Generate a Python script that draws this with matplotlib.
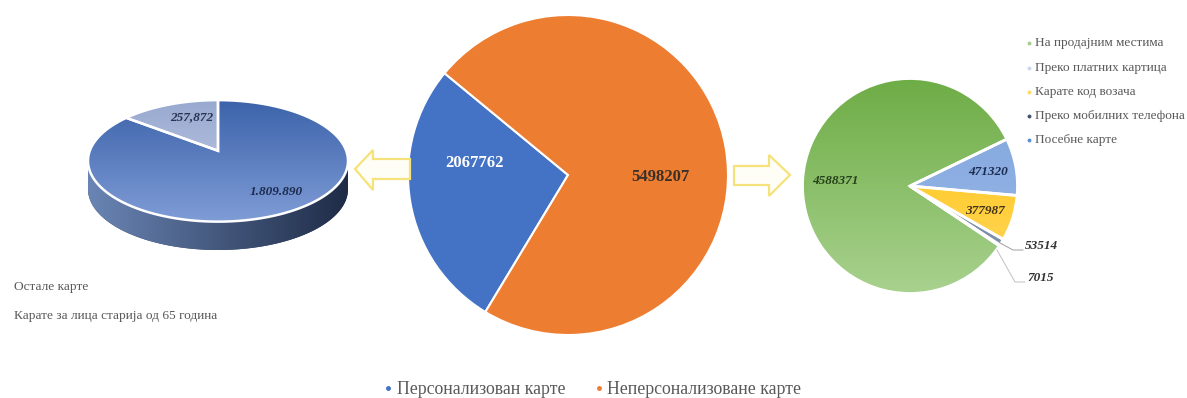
import numpy as np
import matplotlib
matplotlib.use('Agg')
import matplotlib.pyplot as plt
from matplotlib.colors import LinearSegmentedColormap
from matplotlib.patches import Polygon

W, H = 1187, 398

main_labels = ['Персонализован карте', 'Неперсонализоване карте']
main_values = [2067762, 5498207]
main_colors = ['#4472c4', '#ed7d31']

right_labels = ['На продајним местима', 'Преко платних картица', 'Карате код возача',
                'Преко мобилних телефона', 'Посебне карте']
right_values = [4588371, 7015, 53514, 377987, 471320]
right_dots = ['#a5d08a', '#c9d8ee', '#ffd966', '#44546a', '#5b8fd6']

left_labels = ['Остале карте', 'Карате за лица старија од 65 година']
left_values = [257872, 1809890]

plt.rcParams['font.family'] = ['Liberation Serif', 'DejaVu Serif']

fig = plt.figure(figsize=(W / 100, H / 100), dpi=100)


def px_axes(x0, y0, x1, y1):
    # axes box given in pixels, y measured from the top
    return fig.add_axes([x0 / W, 1 - y1 / H, (x1 - x0) / W, (y1 - y0) / H])


def fill_gradient(ax, patch, c1, c2, horizontal=False, z=3):
    cmap = LinearSegmentedColormap.from_list('g', [c1, c2])
    g = np.linspace(0, 1, 128)
    g = g.reshape(1, -1) if horizontal else g.reshape(-1, 1)
    xl, yl = ax.get_xlim(), ax.get_ylim()
    im = ax.imshow(g, cmap=cmap, extent=(xl[0], xl[1], yl[0], yl[1]), origin='upper',
                   aspect='auto', zorder=z)
    im.set_clip_path(patch)
    ax.set_xlim(xl)
    ax.set_ylim(yl)


# middle pie
R = 1.03
cx, cy, r = 568, 175, 160
ax_m = px_axes(cx - r * R, cy - r * R, cx + r * R, cy + r * R)
ax_m.pie(main_values, colors=main_colors, startangle=140.5, radius=1,
         wedgeprops={'edgecolor': 'white', 'linewidth': 1.5})
ax_m.set_xlim(-R, R)
ax_m.set_ylim(-R, R)

# right pie, gradient fills on top of the wedges
cx, cy, r = 910, 186, 107.5
ax_r = px_axes(cx - r * R, cy - r * R, cx + r * R, cy + r * R)
wedges, _ = ax_r.pie(right_values, startangle=25.8, radius=1,
                     colors=['#8cbf6a', '#d0d0d0', '#8090a8', '#ffc933', '#8aaee0'])
ax_r.set_xlim(-R, R)
ax_r.set_ylim(-R, R)
right_grads = [('#6dac45', '#a9d28f'), ('#cfd6e4', '#cfd6e4'), ('#8090a8', '#8090a8'),
               ('#ffc000', '#ffd966'), ('#7ea3dc', '#9dbbe8')]
for w, (c1, c2) in zip(wedges, right_grads):
    fill_gradient(ax_r, w, c1, c2)
    w.set_edgecolor('white')
    w.set_linewidth(2)
    w.set_zorder(4)
    w.set_facecolor('none')

# left pie, tilted: rim is pushed down relative to the centre point
ax_l = px_axes(88, 90, 348, 250)
ax_l.set_xlim(-1, 1)
ax_l.set_ylim(-98 / 60, 60 / 60)
ax_l.axis('off')
shift = 1 / 6
depth = 28 / 60


def rim(t):
    return np.cos(t), np.sin(t) - shift


t_low = np.radians(np.linspace(180, 360, 120))
xs, ys = rim(t_low)
side = Polygon(np.r_[np.c_[xs, ys], np.c_[xs[::-1], ys[::-1] - depth]], closed=True,
               facecolor='#2f4163', edgecolor='none', zorder=1)
ax_l.add_patch(side)
fill_gradient(ax_l, side, '#6a85b4', '#1f2c47', horizontal=True, z=2)

start = 90.0
small_sweep = 360.0 * left_values[0] / sum(left_values)
sweeps = [(start, start + small_sweep), (start + small_sweep, start + 360.0)]
left_grads = [('#98a9d0', '#c8d1e8'), ('#3c63aa', '#7f9cd6')]
for (a0, a1), (c1, c2) in zip(sweeps, left_grads):
    xw, yw = rim(np.radians(np.linspace(a0, a1, 200)))
    pts = np.r_[[[0, 0]], np.c_[xw, yw]]
    wedge = Polygon(pts, closed=True, facecolor='none', edgecolor='white', linewidth=1.8, zorder=5)
    ax_l.add_patch(wedge)
    # both wedges share one gradient range across the top face
    cmap = LinearSegmentedColormap.from_list('g', [c1, c2])
    im = ax_l.imshow(np.linspace(0, 1, 128).reshape(-1, 1), cmap=cmap,
                     extent=(-1, 1, -7 / 6, 5 / 6), origin='upper', aspect='auto', zorder=4)
    im.set_clip_path(wedge)
ax_l.set_xlim(-1, 1)
ax_l.set_ylim(-98 / 60, 60 / 60)

# overlay in pixel coordinates for arrows, labels and legends
ov = fig.add_axes([0, 0, 1, 1], facecolor='none')
ov.set_xlim(0, W)
ov.set_ylim(H, 0)
ov.axis('off')

arrow_left = [(355, 169), (373, 150), (373, 159), (410, 159), (410, 179), (373, 179), (373, 190)]
arrow_right = [(790, 175), (769, 155), (769, 166), (734, 166), (734, 185), (769, 185), (769, 196)]
for a in (arrow_left, arrow_right):
    ov.add_patch(Polygon(a, closed=True, facecolor='#fffef6', edgecolor='#f6e27a', linewidth=1.6))

ov.text(474, 163, str(main_values[0]), color='white', fontsize=12, fontweight='bold', ha='center', va='center')
ov.text(660, 177, str(main_values[1]), color='#3a3028', fontsize=12, fontweight='bold', ha='center', va='center')

ital = {'fontsize': 9.5, 'fontweight': 'bold', 'fontstyle': 'italic', 'ha': 'center', 'va': 'center'}
ov.text(835, 181, str(right_values[0]), color='#26401a', **ital)
ov.text(988, 172, str(right_values[4]), color='#1c2c50', **ital)
ov.text(985, 211, str(right_values[3]), color='#40331a', **ital)
ov.text(1041, 246, str(right_values[2]), color='#333333', **ital)
ov.text(1041, 278, str(right_values[1]), color='#333333', **ital)
ov.plot([1000, 1013, 1023], [243, 250, 250], color='#a0a0a0', lw=0.7)
ov.plot([997, 1015, 1025], [250, 282, 282], color='#c0c0c0', lw=0.7)

ov.text(192, 117, f'{left_values[0]:,}', color='#2a3350', **ital)
ov.text(276, 192, f'{left_values[1]:,}'.replace(',', '.'), color='#1c2c50', **ital)

for i, (lab, dot) in enumerate(zip(right_labels, right_dots)):
    y = [43, 68, 92, 116, 140][i]
    ov.plot([1029], [y], 'o', ms=1.8, color=dot)
    ov.text(1035, y, lab, fontsize=9.5, color='#595959', ha='left', va='center')

for lab, y in zip(left_labels, [287, 316]):
    ov.text(14, y, lab, fontsize=9.6, color='#595959', ha='left', va='center')

ov.plot([388], [388], 'o', ms=2.5, color=main_colors[0])
ov.text(397, 389, main_labels[0], fontsize=12.8, color='#595959', ha='left', va='center')
ov.plot([599], [388], 'o', ms=2.5, color=main_colors[1])
ov.text(607, 389, main_labels[1], fontsize=12.8, color='#595959', ha='left', va='center')

fig.savefig('out.png', dpi=100)
